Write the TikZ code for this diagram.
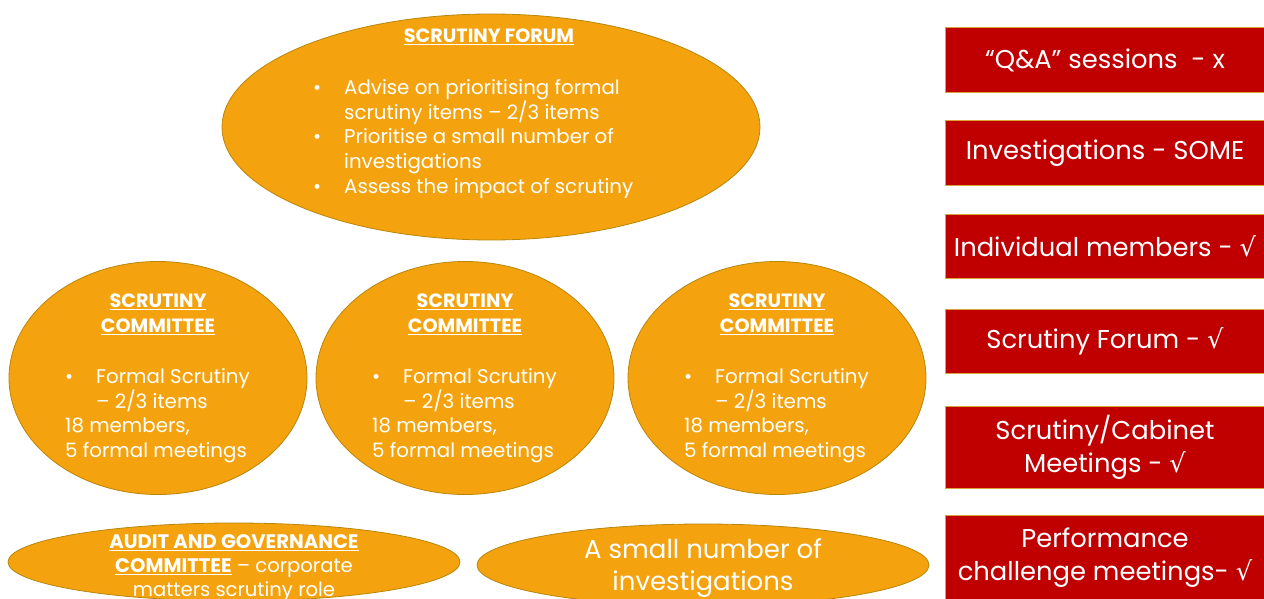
\documentclass[tikz,border=0pt]{standalone}
\usepackage{fontspec}
\setmainfont{Poppins}
\newfontfamily\symfont{DejaVu Sans}
\usetikzlibrary{shapes.geometric}

\definecolor{blobfill}{HTML}{F4A30F}
\definecolor{blobedge}{HTML}{B8860B}
\definecolor{tagfill}{HTML}{C00000}
\definecolor{tagedge}{HTML}{D9A33A}

\tikzset{
	blob/.style={ellipse, draw=blobedge, fill=blobfill, line width=0.8pt, inner sep=0pt},
	tag/.style={rectangle, draw=tagedge, fill=tagfill, line width=1pt, text=white, align=center,
		font=\fontsize{25.8}{33}\selectfont, inner sep=0pt, minimum width=319pt, anchor=north west},
	head/.style={text=white, font=\fontsize{19.2}{25}\selectfont\bfseries, align=center, inner sep=0pt},
	body/.style={text=white, font=\fontsize{19.8}{24.8}\selectfont, align=left, anchor=north west, inner sep=0pt},
}
\newcommand{\tick}{{\symfont\char"221A}}
\newcommand{\bul}{\makebox[31pt][l]{\textbullet}}

\begin{document}
\begin{tikzpicture}[x=1pt,y=-1pt]
\useasboundingbox (0,0) rectangle (1264,599);

% forum
\node[blob, minimum width=538pt, minimum height=226pt] (forum) at (491,127) {};
\node[head] (forumhead) at (489,37) {\underline{SCRUTINY FORUM}};
\node[body] (forumtext) at (313,79) {\bul Advise on prioritising formal\\
	\hspace*{31pt}scrutiny items -- 2/3 items\\
	\bul Prioritise a small number of\\
	\hspace*{31pt}investigations\\
	\bul Assess the impact of scrutiny};

% committees
\foreach \n/\x in {a/158,b/465,c/777}{
	\node[blob, minimum width=298pt, minimum height=233pt] (comm\n) at (\x,378) {};
	\node[head] (commhead\n) at (\x,314) {\underline{SCRUTINY}\\\underline{COMMITTEE}};
	\node[body] (commtext\n) at (\x-93,368) {\bul Formal Scrutiny\\
		\hspace*{31pt}-- 2/3 items\\
		18 members,\\
		5 formal meetings};
}

% bottom row
\node[blob, minimum width=452pt, minimum height=78pt] (audit) at (234,562) {};
\node[head, font=\fontsize{19.6}{24}\selectfont] (audittext) at (234,568)
	{\textbf{\underline{AUDIT AND GOVERNANCE}}\\\textbf{\underline{COMMITTEE}} -- corporate\\matters scrutiny role};
\node[blob, minimum width=452pt, minimum height=82pt] (small) at (703,565) {};
\node[text=white, align=center, font=\fontsize{26}{32}\selectfont, inner sep=0pt] (smalltext) at (703,568)
	{A small number of\\investigations};

% right column
\node[tag, minimum height=65pt] (qa) at (945,27) {``Q\&A'' sessions \ - x};
\node[tag, minimum height=65pt] (inv) at (945,120) {Investigations - SOME};
\node[tag, minimum height=64pt] (indiv) at (945,214) {Individual members - \tick};
\node[tag, minimum height=64pt] (forumtag) at (945,309) {Scrutiny Forum - \tick};
\node[tag, minimum height=82pt] (cabinet) at (945,406) {Scrutiny/Cabinet\\Meetings - \tick};
\node[tag, minimum height=84pt] (perf) at (945,515) {Performance\\challenge meetings- \tick};

\end{tikzpicture}
\end{document}
